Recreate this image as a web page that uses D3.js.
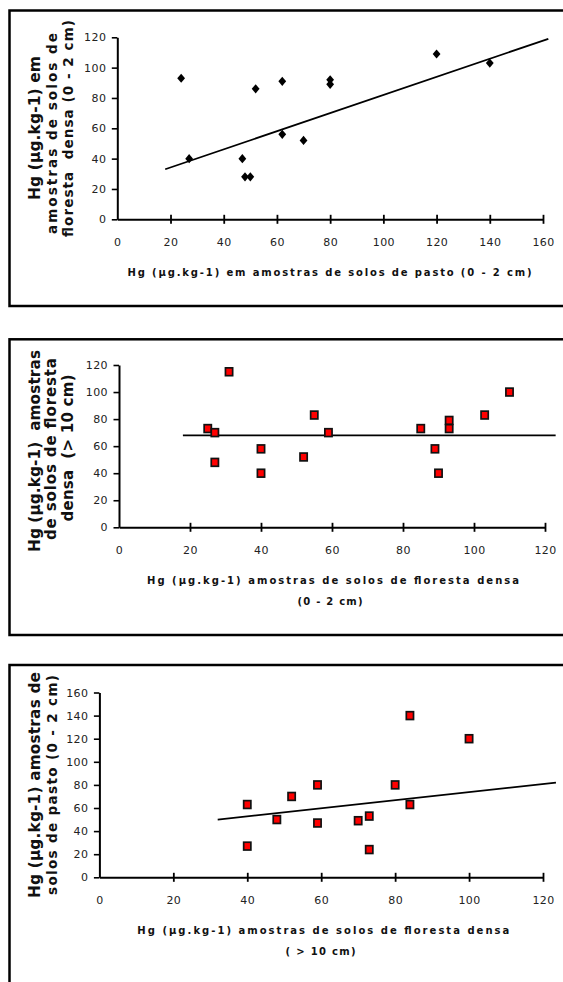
<!DOCTYPE html>
<html>
<head>
<meta charset="utf-8">
<script src="https://cdn.jsdelivr.net/npm/d3@7"></script>
<style>
  html, body { margin: 0; padding: 0; background: #fff; }
  svg { display: block; }
  .tick text { font-family: "DejaVu Sans", Verdana, sans-serif; font-size: 11px; letter-spacing: 0.4px; fill: #222; }
  .lbl { font-family: "DejaVu Sans", Verdana, sans-serif; font-weight: bold; fill: #111; }
</style>
</head>
<body>
<div id="chart"></div>
<script>
// panel 1: pasto (0-2 cm) vs floresta densa (0-2 cm)
const pastoX = [24, 27, 47, 48, 50, 52, 62, 62, 70, 80, 80, 120, 140];
const florestaY = [93, 40, 40, 28, 28, 86, 91, 56, 52, 92, 89, 109, 103];
const trend1 = [[18, 33], [162, 119]];
const xTicks1 = [0, 20, 40, 60, 80, 100, 120, 140, 160];
const yTicks1 = [0, 20, 40, 60, 80, 100, 120];

// panel 2: floresta densa (0-2 cm) vs floresta densa (> 10 cm)
const flor02X = [25, 27, 27, 31, 40, 40, 52, 55, 59, 85, 89, 90, 93, 93, 103, 110];
const flor10Y = [73, 70, 48, 115, 58, 40, 52, 83, 70, 73, 58, 40, 79, 73, 83, 100];
const trend2 = [[18, 68], [123, 68]];
const xTicks2 = [0, 20, 40, 60, 80, 100, 120];
const yTicks2 = [0, 20, 40, 60, 80, 100, 120];

// panel 3: floresta densa (> 10 cm) vs pasto (0-2 cm)
const flor10X = [40, 40, 48, 52, 59, 59, 70, 73, 73, 80, 84, 84, 100];
const pastoY = [63, 27, 50, 70, 80, 47, 49, 53, 24, 80, 140, 63, 120];
const trend3 = [[32, 50], [123.5, 82]];
const xTicks3 = [0, 20, 40, 60, 80, 100, 120];
const yTicks3 = [0, 20, 40, 60, 80, 100, 120, 140, 160];

const W = 563, H = 982;
const svg = d3.select('#chart').append('svg')
  .attr('width', W)
  .attr('height', H)
  .attr('viewBox', `0 0 ${W} ${H}`);
svg.append('rect').attr('width', W).attr('height', H).attr('fill', '#fff');

const panels = [
  {
    box: [9.5, 10.5, 306], xs: pastoX, ys: florestaY, trend: trend1, marker: 'diamond',
    xDom: [0, 160], xRange: [117.3, 543], yDom: [0, 120], yRange: [219.3, 37.3],
    xTicks: xTicks1, yTicks: yTicks1,
    xLabel: [{ t: 'Hg (µg.kg-1) em amostras de solos de pasto (0 - 2 cm)', x: 329.5, y: 275.5, len: 404 }],
    yLabel: [
      { t: 'Hg (µg.kg-1) em', x: 40, y: 128, len: 144, fs: 15.5 },
      { t: 'amostras de solos de', x: 56.5, y: 133.5, len: 201, fs: 13.5 },
      { t: 'floresta  densa (0 - 2 cm)', x: 73, y: 128.5, len: 217, fs: 13.5 }
    ]
  },
  {
    box: [9.5, 339.3, 635], xs: flor02X, ys: flor10Y, trend: trend2, marker: 'square',
    xDom: [0, 120], xRange: [119, 545], yDom: [0, 120], yRange: [527.3, 365],
    xTicks: xTicks2, yTicks: yTicks2,
    xLabel: [
      { t: 'Hg (µg.kg-1) amostras de solos de floresta densa', x: 333, y: 583.5, len: 372 },
      { t: '(0 - 2 cm)', x: 330, y: 604.5, len: 65 }
    ],
    yLabel: [
      { t: 'Hg (µg.kg-1)  amostras', x: 39.5, y: 451, len: 202, fs: 15.3 },
      { t: 'de solos de floresta', x: 56, y: 449, len: 182, fs: 15 },
      { t: 'densa  (> 10 cm)', x: 73, y: 448, len: 147, fs: 15 }
    ]
  },
  {
    box: [9.5, 665, 1000], xs: flor10X, ys: pastoY, trend: trend3, marker: 'square',
    xDom: [0, 120], xRange: [99.4, 543], yDom: [0, 160], yRange: [877.3, 692.5],
    xTicks: xTicks3, yTicks: yTicks3,
    xLabel: [
      { t: 'Hg (µg.kg-1) amostras de solos de floresta densa', x: 323.3, y: 933.5, len: 372 },
      { t: '( > 10 cm)', x: 320.5, y: 955, len: 70 }
    ],
    yLabel: [
      { t: 'Hg (µg.kg-1) amostras de', x: 39.5, y: 785, len: 226, fs: 15.3 },
      { t: 'solos de pasto (0 - 2 cm)', x: 56.5, y: 785, len: 220, fs: 13.5 }
    ]
  }
];

panels.forEach(p => {
  const g = svg.append('g');
  const [bx, by, bb] = p.box;
  g.append('rect')
    .attr('x', bx).attr('y', by)
    .attr('width', W + 20 - bx).attr('height', bb - by)
    .attr('fill', 'none').attr('stroke', '#000').attr('stroke-width', 2.5);

  const x = d3.scaleLinear().domain(p.xDom).range(p.xRange);
  const y = d3.scaleLinear().domain(p.yDom).range(p.yRange);

  // y axis
  const ya = g.append('g')
    .attr('transform', `translate(${p.xRange[0]},0)`)
    .call(d3.axisLeft(y).tickValues(p.yTicks).tickSize(5.5).tickSizeOuter(0).tickPadding(5.5));
  ya.select('.domain').attr('stroke-width', 2);
  ya.selectAll('.tick line').attr('stroke-width', 1.6);

  // x axis, ticks crossing the line
  const xa = g.append('g')
    .attr('transform', `translate(0,${p.yRange[0]})`)
    .call(d3.axisBottom(x).tickValues(p.xTicks).tickSize(0).tickSizeOuter(0));
  xa.select('.domain').attr('stroke-width', 2);
  xa.selectAll('.tick line').attr('y1', -4.5).attr('y2', 4.5).attr('stroke-width', 1.8);
  xa.selectAll('.tick text').attr('y', 23).attr('dy', '0.35em');
  xa.selectAll('.tick')
    .filter(d => d === 0)
    .select('line').remove();

  // trend line
  g.append('path')
    .datum(p.trend)
    .attr('fill', 'none')
    .attr('stroke', '#000')
    .attr('stroke-width', 1.8)
    .attr('d', d3.line().x(d => x(d[0])).y(d => y(d[1])));

  // points
  const pts = p.xs.map((v, i) => [v, p.ys[i]]);
  if (p.marker === 'diamond') {
    g.selectAll('path.pt').data(pts).enter().append('path')
      .attr('class', 'pt')
      .attr('d', d => {
        const cx = x(d[0]), cy = y(d[1]);
        return `M${cx},${cy - 4.6}L${cx + 3.9},${cy}L${cx},${cy + 4.6}L${cx - 3.9},${cy}Z`;
      })
      .attr('fill', '#000');
  } else {
    g.selectAll('rect.pt').data(pts).enter().append('rect')
      .attr('class', 'pt')
      .attr('x', d => x(d[0]) - 3.6)
      .attr('y', d => y(d[1]) - 3.9)
      .attr('width', 7.2)
      .attr('height', 7.8)
      .attr('fill', '#f00')
      .attr('stroke', '#111')
      .attr('stroke-width', 1.7);
  }

  // labels
  p.xLabel.forEach(l => {
    g.append('text').attr('class', 'lbl')
      .attr('x', l.x).attr('y', l.y)
      .attr('text-anchor', 'middle')
      .attr('font-size', 10)
      .attr('textLength', l.len)
      .attr('lengthAdjust', 'spacing')
      .text(l.t);
  });
  p.yLabel.forEach(l => {
    g.append('text').attr('class', 'lbl')
      .attr('transform', `translate(${l.x},${l.y}) rotate(-90)`)
      .attr('text-anchor', 'middle')
      .attr('font-size', l.fs)
      .attr('textLength', l.len)
      .attr('lengthAdjust', 'spacing')
      .style('white-space', 'pre')
      .text(l.t);
  });
});
</script>
</body>
</html>
